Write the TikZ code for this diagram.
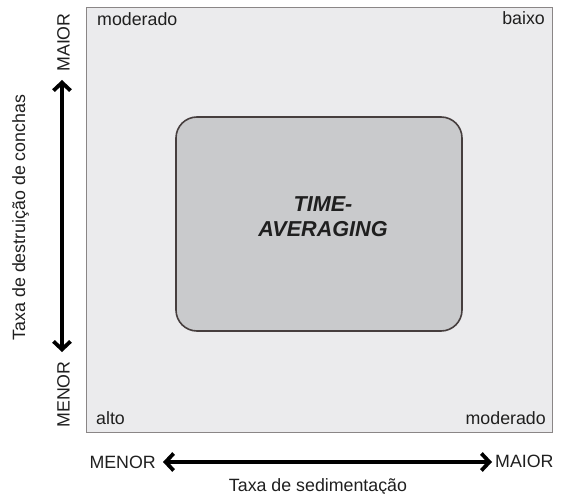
\documentclass[tikz,border=0pt]{standalone}
\usepackage{fontspec}
\setmainfont{Liberation Sans}
\usetikzlibrary{arrows.meta,positioning}

\definecolor{panelfill}{HTML}{EBEBED}
\definecolor{panelline}{HTML}{8A8686}
\definecolor{boxfill}{HTML}{C9CACC}
\definecolor{boxline}{HTML}{463E3E}

\begin{document}
\begin{tikzpicture}[x=1pt, y=-1pt]
\tikzstyle{label} = [font=\fontsize{17.8}{21}\selectfont, inner sep=0pt, text=black!88]
\tikzstyle{axis} = [line width=3.8pt, {Straight Barb[length=8pt,width=17pt]}-{Straight Barb[length=8pt,width=17pt]}]

\useasboundingbox (0,0) rectangle (567,494);

% panel and central box
\node[draw=panelline, fill=panelfill, line width=0.9pt, minimum width=466pt, minimum height=425pt, inner sep=0pt] (panel) at (319,219.5) {};
\node[draw=boxline, fill=boxfill, line width=1.6pt, rounded corners=21pt, minimum width=286pt, minimum height=214pt, inner sep=0pt] (tabox) at (319,224) {};
\node[font=\fontsize{21.6}{25}\selectfont\bfseries\itshape, align=center, text=black!88] (talabel) at (323,217) {TIME-\\AVERAGING};

% corner labels
\node[label, anchor=base west] (nw) at (97,26) {moderado};
\node[label, anchor=base east] (ne) at (545,25) {baixo};
\node[label, anchor=base west] (sw) at (96,424) {alto};
\node[label, anchor=base east] (se) at (546,424) {moderado};

% vertical axis
\node[label, rotate=90] (ymaior) at (63.5,42.5) {MAIOR};
\node[label, rotate=90] (ymenor) at (63.5,394.5) {MENOR};
\coordinate (ytop) at (62,80);
\coordinate (ybot) at (62,352);
\draw[axis] (ybot) -- (ytop);
\node[label, rotate=90, anchor=base] (ytitle) at (25,217.5) {Taxa de destruição de conchas};

% horizontal axis
\node[label, anchor=base east] (xmenor) at (156,468) {MENOR};
\node[label, anchor=base west] (xmaior) at (495,467) {MAIOR};
\coordinate (xleft) at (163,462);
\coordinate (xright) at (492,462);
\draw[axis] (xleft) -- (xright);
\node[label, anchor=base] (xtitle) at (318,491) {Taxa de sedimentação};
\end{tikzpicture}
\end{document}
